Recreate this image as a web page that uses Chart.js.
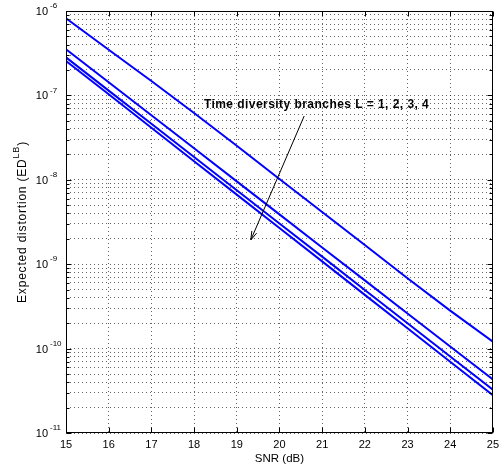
<!DOCTYPE html>
<html><head><meta charset="utf-8">
<script src="https://cdn.jsdelivr.net/npm/chart.js@4/dist/chart.umd.min.js"></script>
<style>html,body{margin:0;padding:0;background:#fff}canvas{display:block}</style>
</head><body>
<canvas id="c" width="504" height="470"></canvas>
<script>
// ---- data ----
const snrDb = [15, 16, 17, 18, 19, 20, 21, 22, 23, 24, 25];
const distL1 = [8.18e-7, 3.48e-7, 1.48e-7, 6.18e-8, 2.53e-8, 1.02e-8, 4.16e-9, 1.69e-9, 6.8e-10, 2.82e-10, 1.21e-10];
const distL2 = [3.52e-7, 1.43e-7, 5.81e-8, 2.36e-8, 9.57e-9, 3.89e-9, 1.58e-9, 6.43e-10, 2.61e-10, 1.06e-10, 4.30e-11];
const distL3 = [2.82e-7, 1.14e-7, 4.61e-8, 1.86e-8, 7.52e-9, 3.03e-9, 1.23e-9, 4.94e-10, 2.00e-10, 8.05e-11, 3.26e-11];
const distL4 = [2.56e-7, 1.03e-7, 4.13e-8, 1.66e-8, 6.68e-9, 2.68e-9, 1.08e-9, 4.33e-10, 1.74e-10, 7.00e-11, 2.81e-11];
const xTickValues = [15, 16, 17, 18, 19, 20, 21, 22, 23, 24, 25];
const yDecadeExponents = [-11, -10, -9, -8, -7, -6];
const xTitle = 'SNR (dB)';
const yTitleMain = 'Expected distortion (ED';
const yTitleSup = 'LB';
const yTitleEnd = ')';
const annotationText = 'Time diversity branches L = 1, 2, 3, 4';
const annotationTextAt = [18.23, 7.7e-8];
const arrowFrom = [20.58, 5.7e-8];
const arrowTo = [19.33, 1.94e-9];

const FONT = '"Liberation Sans", Arial, Helvetica, sans-serif';

const decorations = {
  id: 'decorations',
  afterDraw(chart) {
    const {ctx, chartArea: a, scales: {x, y}} = chart;
    ctx.save();
    const L = Math.round(a.left) + 0.5, R = Math.round(a.right) - 0.5;
    const T = Math.round(a.top) + 0.5, B = Math.round(a.bottom) - 0.5;
    // box
    ctx.strokeStyle = '#000';
    ctx.lineWidth = 1;
    ctx.setLineDash([]);
    ctx.strokeRect(L, T, R - L, B - T);
    // inward ticks
    ctx.beginPath();
    x.ticks.forEach(t => {
      const px = Math.round(x.getPixelForValue(t.value)) + 0.5;
      ctx.moveTo(px, B); ctx.lineTo(px, B - 5);
      ctx.moveTo(px, T); ctx.lineTo(px, T + 5);
    });
    y.ticks.forEach(t => {
      const py = Math.round(y.getPixelForValue(t.value)) + 0.5;
      const e = Math.log10(t.value);
      const len = Math.abs(e - Math.round(e)) < 1e-6 ? 5 : 3;
      ctx.moveTo(L, py); ctx.lineTo(L + len, py);
      ctx.moveTo(R, py); ctx.lineTo(R - len, py);
    });
    ctx.stroke();
    // y tick labels with superscript exponents
    ctx.fillStyle = '#000';
    yDecadeExponents.forEach(e => {
      const py = y.getPixelForValue(Math.pow(10, e));
      ctx.font = '11px ' + FONT;
      ctx.textAlign = 'right';
      ctx.textBaseline = 'middle';
      ctx.fillText('10', a.left - 18, py + 1);
      ctx.font = '8px ' + FONT;
      ctx.textAlign = 'left';
      ctx.fillText('-' + (-e), a.left - 16, py - 5);
    });
    // y title (rotated) with superscript
    ctx.save();
    ctx.translate(26, (a.top + a.bottom) / 2);
    ctx.rotate(-Math.PI / 2);
    ctx.textBaseline = 'alphabetic';
    ctx.textAlign = 'left';
    ctx.letterSpacing = '0.8px';
    ctx.font = '12px ' + FONT;
    const w1 = ctx.measureText(yTitleMain).width;
    const w3 = ctx.measureText(yTitleEnd).width;
    ctx.font = '9px ' + FONT;
    const w2 = ctx.measureText(yTitleSup).width;
    let sx = -(w1 + w2 + w3) / 2;
    ctx.font = '12px ' + FONT;
    ctx.fillText(yTitleMain, sx, 0);
    ctx.font = '9px ' + FONT;
    ctx.fillText(yTitleSup, sx + w1, -7);
    ctx.font = '12px ' + FONT;
    ctx.fillText(yTitleEnd, sx + w1 + w2, 0);
    ctx.restore();
    // annotation text
    ctx.font = 'bold 12px ' + FONT;
    ctx.letterSpacing = '0.45px';
    ctx.textAlign = 'left';
    ctx.textBaseline = 'middle';
    ctx.fillText(annotationText, x.getPixelForValue(annotationTextAt[0]), y.getPixelForValue(annotationTextAt[1]));
    ctx.letterSpacing = '0px';
    // arrow
    const x0 = x.getPixelForValue(arrowFrom[0]), y0 = y.getPixelForValue(arrowFrom[1]);
    const x1 = x.getPixelForValue(arrowTo[0]), y1 = y.getPixelForValue(arrowTo[1]);
    ctx.lineWidth = 1;
    ctx.beginPath();
    ctx.moveTo(x0, y0); ctx.lineTo(x1, y1);
    const ang = Math.atan2(y1 - y0, x1 - x0);
    const hl = 9, hw = 0.3;
    ctx.moveTo(x1 - hl * Math.cos(ang - hw), y1 - hl * Math.sin(ang - hw));
    ctx.lineTo(x1, y1);
    ctx.lineTo(x1 - hl * Math.cos(ang + hw), y1 - hl * Math.sin(ang + hw));
    ctx.stroke();
    ctx.restore();
  }
};

const mkSet = (data) => ({
  data: snrDb.map((s, i) => ({x: s, y: data[i]})),
  borderColor: '#0000ff',
  borderWidth: 2,
  pointRadius: 0,
  tension: 0,
  fill: false
});

new Chart(document.getElementById('c'), {
  type: 'line',
  data: { datasets: [mkSet(distL1), mkSet(distL2), mkSet(distL3), mkSet(distL4)] },
  options: {
    responsive: false,
    animation: false,
    events: [],
    layout: { padding: { top: 11, right: 7, left: 0, bottom: 0 } },
    plugins: { legend: { display: false }, tooltip: { enabled: false } },
    scales: {
      x: {
        type: 'linear',
        min: 15, max: 25,
        afterBuildTicks: (s) => { s.ticks = xTickValues.map(v => ({value: v})); },
        afterFit: (s) => { s.height = 37; },
        ticks: { autoSkip: false, maxRotation: 0, color: '#000', padding: 5, font: { size: 11, family: FONT } },
        grid: { color: 'rgba(0,0,0,0.6)', lineWidth: 1, drawTicks: false },
        border: { display: false, dash: [1, 3] },
        title: { display: true, text: xTitle, color: '#000', font: { size: 11.5, family: FONT }, padding: { top: 0, bottom: 4 } }
      },
      y: {
        type: 'logarithmic',
        min: 1e-11, max: 1e-6,
        afterBuildTicks: (s) => {
          const t = [];
          for (let e = -11; e < -6; e++) for (let k = 1; k <= 9; k++) t.push({value: k * Math.pow(10, e)});
          t.push({value: 1e-6});
          s.ticks = t;
        },
        afterFit: (s) => { s.width = 66; },
        ticks: { display: false, autoSkip: false },
        grid: { color: 'rgba(0,0,0,0.6)', lineWidth: 1, drawTicks: false },
        border: { display: false, dash: [1, 3] }
      }
    }
  },
  plugins: [decorations]
});
</script>
</body></html>
